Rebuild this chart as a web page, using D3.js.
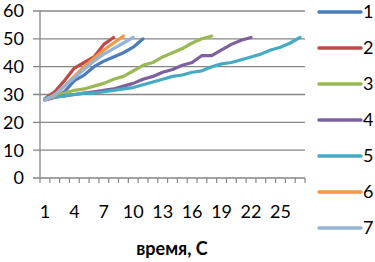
<!DOCTYPE html>
<html>
<head>
<meta charset="utf-8">
<script src="https://cdn.jsdelivr.net/npm/d3@7"></script>
<style>
  body { margin: 0; background: #fff; }
  svg text { font-family: Lato, "Open Sans", sans-serif; fill: #000; }
</style>
</head>
<body>
<div id="chart"></div>
<script>
// categories (time, s) 1..27
const categories = d3.range(1, 28);
const tickLabels = [1, 4, 7, 10, 13, 16, 19, 22, 25];
const yTicks = [0, 10, 20, 30, 40, 50, 60];

const s1 = [28, 29, 31, 35, 37, 40, 42, 43.5, 45, 47, 50];
const s2 = [28.5, 31, 35, 39.5, 41.5, 43.5, 48, 50.5];
const s3 = [28.5, 29.5, 30.5, 31.5, 32, 33, 34, 35.5, 36.5, 38.5, 40.5, 41.5, 43.5, 45, 46.5, 48.5, 50, 51];
const s4 = [28, 29, 29.5, 30, 30.5, 31, 31.5, 32, 33, 34, 35.5, 36.5, 38, 39, 40.5, 41.5, 44, 44, 46, 48, 49.5, 50.5];
const s5 = [28.5, 29, 29.5, 30, 30.5, 30.5, 31, 31.5, 32, 32.5, 33.5, 34.5, 35.5, 36.5, 37, 38, 38.5, 40, 41, 41.5, 42.5, 43.5, 44.5, 46, 47, 48.5, 50.5];
const s6 = [28, 29.5, 33, 36.5, 40, 43, 46, 48.5, 51];
const s7 = [28, 30, 33, 36, 39, 42, 44.5, 46.5, 48.5, 50.5];

const seriesNames = ["1", "2", "3", "4", "5", "6", "7"];
const seriesValues = [s1, s2, s3, s4, s5, s6, s7];
const colors = ["#4A7EBB", "#BE4B48", "#98B954", "#7D60A0", "#46AAC5", "#F79646", "#95B3D7"];

const W = 375, H = 262;
const plot = { left: 40, right: 305, top: 11, bottom: 178 };

const svg = d3.select("#chart").append("svg")
    .attr("width", W)
    .attr("height", H);

const x = d3.scaleBand()
    .domain(categories)
    .range([plot.left, plot.right]);

const y = d3.scaleLinear()
    .domain([0, 60])
    .range([plot.bottom, plot.top]);

// gridlines + y ticks
svg.append("g")
    .selectAll("line")
    .data(yTicks)
    .enter()
    .append("line")
    .attr("x1", plot.left - 7)
    .attr("x2", plot.right)
    .attr("y1", d => y(d))
    .attr("y2", d => y(d))
    .attr("stroke", "#868686")
    .attr("stroke-width", 1.3);

svg.append("g")
    .selectAll("text")
    .data(yTicks)
    .enter()
    .append("text")
    .attr("x", 24)
    .attr("y", d => y(d))
    .attr("dy", "0.36em")
    .attr("text-anchor", "end")
    .attr("font-size", 18)
    .text(d => d);

// y axis line
svg.append("line")
    .attr("x1", plot.left).attr("x2", plot.left)
    .attr("y1", plot.top).attr("y2", plot.bottom)
    .attr("stroke", "#868686")
    .attr("stroke-width", 1.3);

// x ticks at category boundaries
const boundaries = categories.map(c => x(c)).concat([plot.right]);
svg.append("g")
    .selectAll("line")
    .data(boundaries)
    .enter()
    .append("line")
    .attr("x1", d => d).attr("x2", d => d)
    .attr("y1", plot.bottom).attr("y2", plot.bottom + 5)
    .attr("stroke", "#868686")
    .attr("stroke-width", 1.2);

svg.append("g")
    .selectAll("text")
    .data(tickLabels)
    .enter()
    .append("text")
    .attr("x", d => x(d) + x.bandwidth() / 2)
    .attr("y", 218)
    .attr("text-anchor", "middle")
    .attr("font-size", 18)
    .text(d => d);

// axis title
svg.append("text")
    .attr("x", 172)
    .attr("y", 255)
    .attr("text-anchor", "middle")
    .attr("font-size", 18)
    .attr("font-weight", "bold")
    .text("время, С");

// series lines
const line = d3.line()
    .x((d, i) => x(categories[i]) + x.bandwidth() / 2)
    .y(d => y(d));

svg.append("g")
    .selectAll("path")
    .data(seriesValues)
    .enter()
    .append("path")
    .attr("d", line)
    .attr("fill", "none")
    .attr("stroke", (d, i) => colors[i])
    .attr("stroke-width", 3.2)
    .attr("stroke-linejoin", "round")
    .attr("stroke-linecap", "round");

// legend
const legend = svg.append("g")
    .selectAll("g")
    .data(seriesNames)
    .enter()
    .append("g")
    .attr("transform", (d, i) => `translate(0, ${12 + i * 36})`);

legend.append("line")
    .attr("x1", 319).attr("x2", 361)
    .attr("y1", 0).attr("y2", 0)
    .attr("stroke", (d, i) => colors[i])
    .attr("stroke-width", 3.5)
    .attr("stroke-linecap", "round");

legend.append("text")
    .attr("x", 363)
    .attr("y", 0)
    .attr("dy", "0.36em")
    .attr("font-size", 18)
    .text(d => d);
</script>
</body>
</html>
